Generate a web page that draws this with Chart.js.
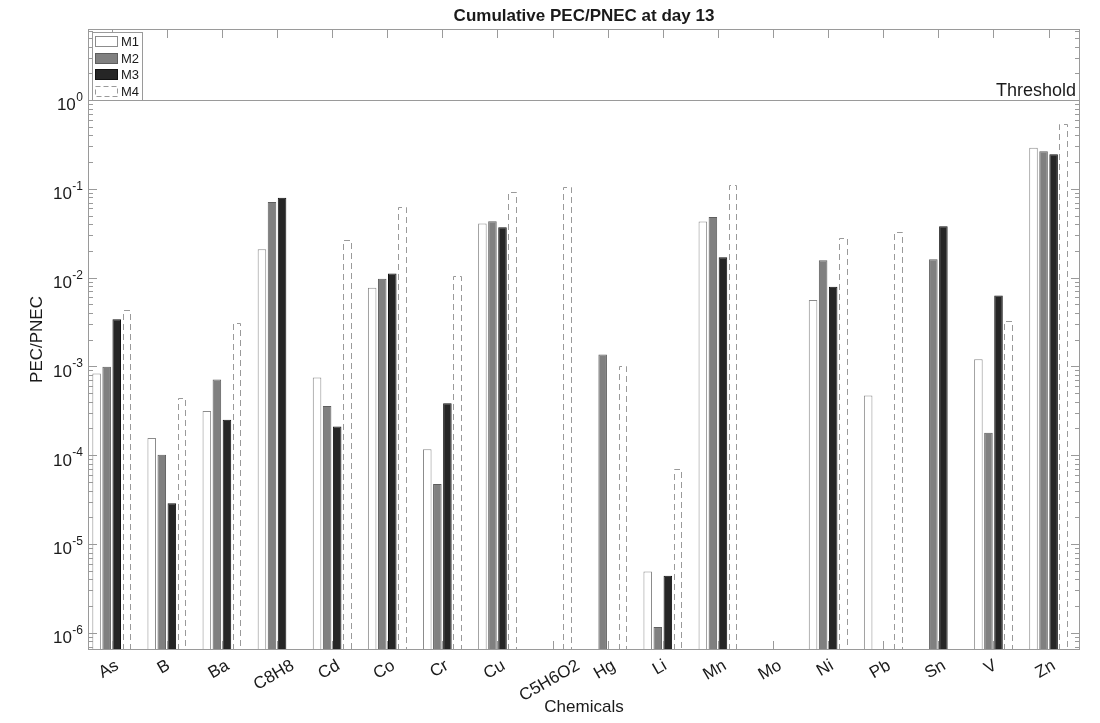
<!DOCTYPE html>
<html><head><meta charset="utf-8">
<script src="https://cdn.jsdelivr.net/npm/chart.js@4"></script>
<style>html,body{margin:0;padding:0;background:#fff;} canvas{display:block;}</style>
</head><body>
<canvas id="c" width="1100" height="723"></canvas>
<script>
const categories = ['As','B','Ba','C8H8','Cd','Co','Cr','Cu','C5H6O2','Hg','Li','Mn','Mo','Ni','Pb','Sn','V','Zn'];
const seriesNames = ['M1','M2','M3','M4'];
const m1 = [8.3e-4, 1.56e-4, 3.15e-4, 0.0208, 7.5e-4, 7.7e-3, 1.17e-4, 0.0406, null, null, 4.9e-6, 0.0428, null, 5.6e-3, 4.7e-4, null, 1.2e-3, 0.29];
const m2 = [9.9e-4, 1.01e-4, 7.1e-4, 0.071, 3.58e-4, 9.7e-3, 4.75e-5, 0.043, null, 1.36e-3, 1.16e-6, 0.0482, null, 0.0157, null, 0.0161, 1.79e-4, 0.265];
const m3 = [3.39e-3, 2.88e-5, 2.51e-4, 0.0794, 2.11e-4, 0.0111, 3.84e-4, 0.0369, null, null, 4.4e-6, 0.0169, null, 7.9e-3, null, 0.0378, 6.3e-3, 0.245];
const m4 = [4.35e-3, 4.45e-4, 3.06e-3, null, 0.0267, 0.0625, 0.0104, 0.093, 0.106, 1.02e-3, 6.9e-5, 0.11, null, 0.0277, 0.0324, null, 3.22e-3, 0.54];
const yTickValues = [1e-6, 1e-5, 1e-4, 1e-3, 1e-2, 1e-1, 1];
const yTickBase = '10';
const yTickExponents = ['-6', '-5', '-4', '-3', '-2', '-1', '0'];
const thresholdValue = 1;
const thresholdLabel = 'Threshold';
const titleText = 'Cumulative PEC/PNEC at day 13';
const xTitle = 'Chemicals';
const yTitle = 'PEC/PNEC';

const FONT = "'Liberation Sans', Arial, Helvetica, sans-serif";
const TXT = '#1a1a1a';
const AX = '#9a9a9a';
const toPoints = arr => arr.map((v, i) => ({ x: i, y: v }));

const decor = {
  id: 'decor',
  beforeDraw(chart) {
    const { ctx, width, height } = chart;
    ctx.save(); ctx.fillStyle = '#fff'; ctx.fillRect(0, 0, width, height); ctx.restore();
  },
  afterDatasetsDraw(chart) {
    const { ctx, chartArea: a, scales: { x, y } } = chart;
    ctx.save();
    // dashed outline bars (M4)
    chart.data.datasets.forEach((ds, di) => {
      if (!ds.dashed) return;
      const meta = chart.getDatasetMeta(di);
      meta.data.forEach((el, i) => {
        if (ds.data[i].y == null) return;
        const p = el.getProps(['x', 'y', 'base', 'width'], true);
        const l = Math.round(p.x - p.width / 2) + 0.5, r = Math.round(p.x + p.width / 2) - 0.5;
        const t = Math.round(p.y) + 0.5, b = p.base;
        ctx.beginPath(); ctx.moveTo(l, b); ctx.lineTo(l, t); ctx.lineTo(r, t); ctx.lineTo(r, b);
        ctx.setLineDash([6, 4]); ctx.strokeStyle = '#9a9a9a'; ctx.lineWidth = 1; ctx.stroke();
      });
    });
    ctx.setLineDash([]);
    // threshold
    const ty = Math.round(y.getPixelForValue(thresholdValue)) + 0.5;
    ctx.strokeStyle = AX; ctx.lineWidth = 1;
    ctx.beginPath(); ctx.moveTo(a.left, ty); ctx.lineTo(a.right, ty); ctx.stroke();
    ctx.fillStyle = TXT; ctx.font = '18px ' + FONT; ctx.textAlign = 'right'; ctx.textBaseline = 'alphabetic';
    ctx.fillText(thresholdLabel, a.right - 4, ty - 5);
    // frame
    ctx.strokeStyle = AX;
    ctx.strokeRect(a.left + 0.5, a.top + 0.5, a.right - a.left - 1, a.bottom - a.top - 1);
    // y ticks (major + minor) both sides
    ctx.beginPath();
    for (let e = -7; e <= 0; e++) {
      for (let k = 1; k <= 9; k++) {
        const v = k * Math.pow(10, e);
        if (v < y.min || v > y.max) continue;
        const py = Math.round(y.getPixelForValue(v)) + 0.5;
        const len = k === 1 ? 9 : 5;
        ctx.moveTo(a.left, py); ctx.lineTo(a.left + len, py);
        ctx.moveTo(a.right, py); ctx.lineTo(a.right - len, py);
      }
    }
    // x ticks top/bottom
    categories.forEach((c, i) => {
      const px = Math.round(x.getPixelForValue(i)) + 0.5;
      ctx.moveTo(px, a.top); ctx.lineTo(px, a.top + 9);
      ctx.moveTo(px, a.bottom); ctx.lineTo(px, a.bottom - 9);
    });
    ctx.stroke();
    // y tick labels: base with superscript exponent
    ctx.fillStyle = TXT; ctx.textBaseline = 'alphabetic'; ctx.textAlign = 'right';
    yTickValues.forEach((v, i) => {
      const py = y.getPixelForValue(v);
      const rx = a.left - 5;
      ctx.font = '12px ' + FONT;
      const ew = ctx.measureText(yTickExponents[i]).width;
      ctx.fillText(yTickExponents[i], rx, py + 1);
      ctx.font = '17px ' + FONT;
      ctx.fillText(yTickBase, rx - ew - 0.5, py + 10.5);
    });
    // x labels rotated
    ctx.fillStyle = TXT; ctx.font = '17px ' + FONT; ctx.textAlign = 'center'; ctx.textBaseline = 'middle';
    const ang = 30 * Math.PI / 180;
    categories.forEach((c, i) => {
      const px = x.getPixelForValue(i);
      const w = ctx.measureText(c).width;
      const H = w * Math.sin(ang) + 17 * Math.cos(ang);
      ctx.save();
      ctx.translate(px - 3, a.bottom + 7 + H / 2);
      ctx.rotate(-ang);
      ctx.fillText(c, 0, 0);
      ctx.restore();
    });
    // title
    ctx.font = 'bold 17px ' + FONT; ctx.textAlign = 'center'; ctx.textBaseline = 'alphabetic';
    ctx.fillText(titleText, (a.left + a.right) / 2, 21);
    // legend
    const lx = a.left + 4, ly = a.top + 3, lw = 51, lh = 69;
    ctx.fillStyle = '#fff'; ctx.fillRect(lx, ly, lw, lh);
    ctx.strokeStyle = AX; ctx.strokeRect(lx + 0.5, ly + 0.5, lw - 1, lh - 1);
    ctx.font = '13px ' + FONT; ctx.textAlign = 'left'; ctx.textBaseline = 'middle';
    chart.data.datasets.forEach((ds, i) => {
      const sy = ly + 4 + i * 16.5;
      const sx = lx + 3;
      ctx.setLineDash(ds.dashed ? [5, 3] : []);
      ctx.fillStyle = ds.dashed ? '#fff' : ds.backgroundColor;
      ctx.fillRect(sx, Math.round(sy), 23, 11);
      ctx.strokeStyle = ds.dashed ? '#9a9a9a' : ds.borderColor;
      ctx.strokeRect(sx + 0.5, Math.round(sy) + 0.5, 22, 10);
      ctx.setLineDash([]);
      ctx.fillStyle = TXT;
      ctx.fillText(ds.label, sx + 26, Math.round(sy) + 6);
    });
    ctx.restore();
  }
};

new Chart(document.getElementById('c'), {
  type: 'bar',
  data: {
    datasets: [
      { label: seriesNames[0], data: toPoints(m1), backgroundColor: '#ffffff', borderColor: '#8c8c8c', borderWidth: 1 },
      { label: seriesNames[1], data: toPoints(m2), backgroundColor: '#808080', borderColor: '#5e5e5e', borderWidth: 1 },
      { label: seriesNames[2], data: toPoints(m3), backgroundColor: '#262626', borderColor: '#111111', borderWidth: 1 },
      { label: seriesNames[3], data: toPoints(m4), backgroundColor: 'rgba(255,255,255,0)', borderWidth: 0, dashed: true }
    ]
  },
  options: {
    responsive: false, animation: false, events: [], devicePixelRatio: 1,
    datasets: { bar: { categoryPercentage: 0.73, barPercentage: 0.85, borderSkipped: 'start' } },
    layout: { padding: { top: 29, right: 20, bottom: 0, left: 0 } },
    plugins: { legend: { display: false }, title: { display: false }, tooltip: { enabled: false } },
    scales: {
      x: {
        type: 'linear', min: -0.43, max: 17.57, offset: false,
        afterBuildTicks: s => { s.ticks = categories.map((_, i) => ({ value: i })); },
        afterFit: s => { s.height = 73; },
        grid: { display: false, drawTicks: false }, border: { display: false },
        ticks: { display: false },
        title: { display: true, text: xTitle, color: TXT, font: { family: FONT, size: 17 }, padding: { top: 0, bottom: 5 } }
      },
      y: {
        type: 'logarithmic', min: 6.4e-7, max: 6.3,
        afterBuildTicks: s => { s.ticks = yTickValues.map(v => ({ value: v })); },
        afterFit: s => { s.width = 88; },
        grid: { display: false, drawTicks: false }, border: { display: false },
        ticks: { display: false },
        title: { display: true, text: yTitle, color: TXT, font: { family: FONT, size: 17 }, padding: { top: 27, bottom: 0 } }
      }
    }
  },
  plugins: [decor]
});
</script>
</body></html>
